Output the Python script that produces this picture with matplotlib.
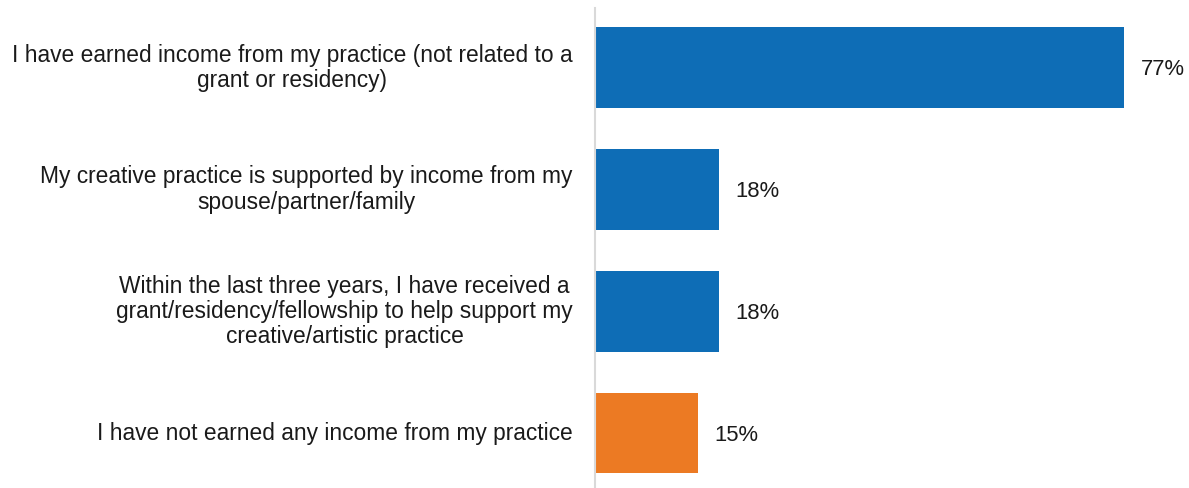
import matplotlib
matplotlib.use("Agg")
import matplotlib.pyplot as plt

categories = [
    "I have earned income from my practice (not related to a\ngrant or residency)",
    "My creative practice is supported by income from my\nspouse/partner/family",
    "Within the last three years, I have received a\ngrant/residency/fellowship to help support my\ncreative/artistic practice",
    "I have not earned any income from my practice",
]
values = [77, 18, 18, 15]
colors = ["#0E6DB6", "#0E6DB6", "#0E6DB6", "#EC7A23"]

fig = plt.figure(figsize=(11.89, 4.88), dpi=100)
ax = fig.add_axes([595 / 1189, 0.0, 1 - 595 / 1189, 480 / 488])

pos = list(range(len(values)))
ax.barh(pos, values, height=0.66, color=colors, zorder=2)
ax.set_ylim(3.45, -0.49)
ax.set_xlim(0, 86.5)

for p, v in zip(pos, values):
    ax.annotate(f"{v}%", xy=(v, p), xytext=(12, -1.5), textcoords="offset points",
                ha="left", va="center", fontsize=15.8, family="Liberation Sans",
                color="#1a1a1a")

for p, c in zip(pos, categories):
    ax.annotate(c, xy=(0, p), xytext=(-16, 0), textcoords="offset points",
                ha="right", va="center", multialignment="center",
                fontsize=16.4, family="Liberation Sans", color="#1a1a1a",
                linespacing=1.12)

for s in ["top", "right", "bottom"]:
    ax.spines[s].set_visible(False)
ax.spines["left"].set_color("#d9d9d9")
ax.spines["left"].set_linewidth(1.5)
ax.set_xticks([])
ax.set_yticks([])

fig.savefig("out.png", dpi=100)
